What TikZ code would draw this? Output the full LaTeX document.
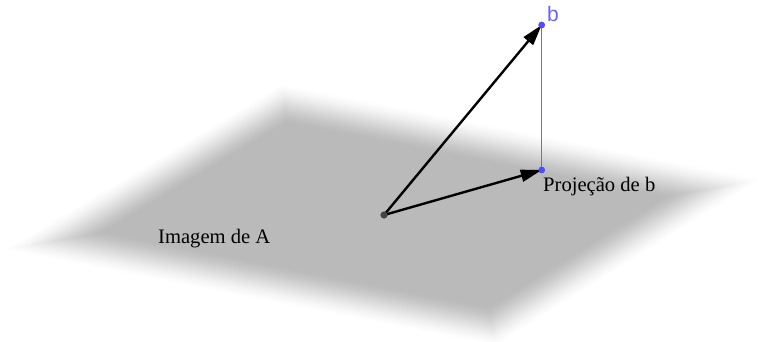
\documentclass[tikz,border=0pt]{standalone}
\usepackage{fontspec}
\setmainfont{Liberation Serif}
\newfontfamily\labelsans{Liberation Sans}
\usetikzlibrary{arrows.meta,calc}
\definecolor{planegray}{RGB}{186,186,186}
\definecolor{ptblue}{RGB}{77,77,255}
\definecolor{lblblue}{RGB}{100,100,255}
\definecolor{origingray}{RGB}{68,68,68}
\definecolor{dropgray}{RGB}{120,120,120}
\begin{document}
\begin{tikzpicture}[x=1pt,y=-1pt,
  vec/.style={line width=2.4pt, line cap=round, -{Triangle[length=21pt,width=12pt]}},
  bluedot/.style={circle, fill=ptblue, inner sep=0pt, minimum size=6.5pt},
  greydot/.style={circle, fill=origingray, inner sep=0pt, minimum size=7pt},
  seriflabel/.style={anchor=base west, inner sep=0pt, font=\fontsize{20.6}{24}\selectfont},
  sanslabel/.style={anchor=base west, inner sep=0pt, text=lblblue, font=\labelsans\fontsize{21}{24}\selectfont}]
\useasboundingbox (0,0) rectangle (758,342);
\coordinate (A) at (4,250);
\coordinate (B) at (282,84);
\coordinate (C) at (762,179);
\coordinate (D) at (496,346);
\foreach \k in {0,...,36} {
  \pgfmathsetmacro\s{\k/211}
  \pgfmathsetmacro\sb{1-\k/211}
  \pgfmathsetmacro\t{\k/329}
  \pgfmathsetmacro\tb{1-\k/329}
  \pgfmathsetmacro\f{100*(0.5*(\k/36)+0.5*(3*(\k/36)^2-2*(\k/36)^3))}
  \coordinate (L1) at ($(A)!\s!(B)$);
  \coordinate (L2) at ($(D)!\s!(C)$);
  \coordinate (R1) at ($(A)!\sb!(B)$);
  \coordinate (R2) at ($(D)!\sb!(C)$);
  \fill[planegray!\f!white] ($(L1)!\t!(L2)$) -- ($(R1)!\t!(R2)$) -- ($(R1)!\tb!(R2)$) -- ($(L1)!\tb!(L2)$) -- cycle;
}
\node[greydot] (O) at (384,215) {};
\node[bluedot] (b) at (541.7,25) {};
\node[bluedot] (p) at (541.7,170) {};
\draw[dropgray, line width=1pt] (b.center) -- (p.center);
\draw[vec] (O.center) -- (b.center);
\draw[vec] (O.center) -- (p.center);
\node[greydot] at (O.center) {};
\node[bluedot] at (b.center) {};
\node[bluedot] at (p.center) {};
\node[seriflabel] (imgA) at (158,243) {Imagem de A};
\node[seriflabel] (projlbl) at (543,191) {Projeção de b};
\node[sanslabel] (blbl) at (547,22) {b};
\end{tikzpicture}
\end{document}
